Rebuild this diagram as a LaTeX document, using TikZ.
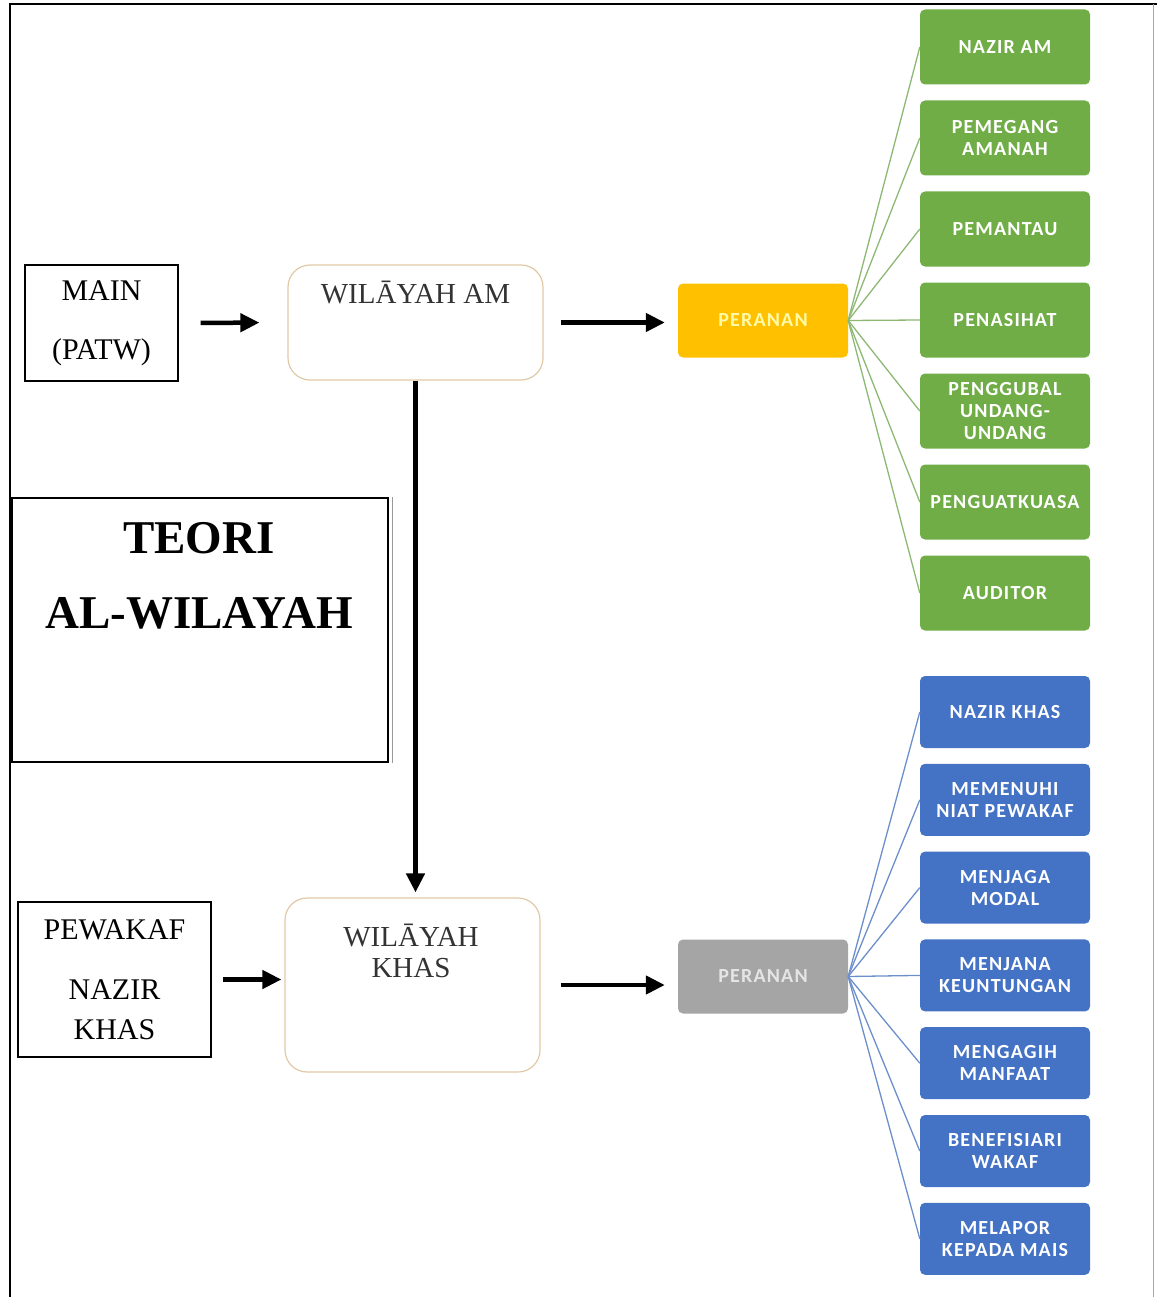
\documentclass[tikz,border=0pt]{standalone}
\usepackage{fontspec}
\setmainfont{Liberation Serif}
\newfontfamily\boxfont[LetterSpace=6]{Carlito}
\usetikzlibrary{calc,positioning}
\usetikzlibrary{arrows.meta}
\usepackage{xcolor}
\definecolor{amgreen}{HTML}{70AD47}
\definecolor{amline}{HTML}{8DB873}
\definecolor{khblue}{HTML}{4472C4}
\definecolor{khline}{HTML}{6C8FCB}
\definecolor{peryellow}{HTML}{FFC000}
\definecolor{pergray}{HTML}{A5A5A5}
\definecolor{wborder}{HTML}{E2C9A6}

\tikzset{
  srcbox/.style={draw,line width=1.3pt,align=center,inner sep=0pt},
  wbox/.style={draw=wborder,line width=1.2pt,rounded corners=22pt,fill=white},
  wtext/.style={align=center,text=black!80,font=\fontsize{29}{31}\selectfont},
  rolebox/.style={rounded corners=5pt,minimum width=170pt,align=center,
    text=white,font=\boxfont\bfseries\fontsize{20}{22}\selectfont,inner sep=0pt},
  perbox/.style={rounded corners=5pt,minimum width=170pt,minimum height=74pt,
    font=\boxfont\bfseries\fontsize{20}{22}\selectfont},
  bigarrow/.style={line width=4.5pt,-{Triangle[length=19pt,width=18pt]}}
}

\begin{document}
\begin{tikzpicture}[x=1pt,y=-1pt]
  \useasboundingbox (0,0) rectangle (1157,1297);
  % frame
  \draw[line width=1.5pt] (10,1297) -- (10,4) -- (1157,4);
  \draw[black!35,line width=0.8pt] (1153,4) -- (1153,1297);

  % wilayah am
  \node[srcbox,minimum width=153pt,minimum height=116pt,
    font=\fontsize{30}{59}\selectfont] (main) at (101.5,323) {MAIN\\(PATW)};
  \node[wbox,minimum width=255pt,minimum height=115pt] (wam) at (415.5,322.5) {};
  \node[wtext] (wamt) at (415.5,293) {WILĀYAH AM};
  \node[perbox,fill=peryellow,text=yellow!35] (perananA) at (763,320.5) {PERANAN};

  % teori box
  \node[draw,line width=1.3pt,minimum width=376pt,minimum height=264pt] (teori) at (200,630) {};
  \draw[black!40,line width=1pt] ([xshift=4pt]teori.north east) -- ([xshift=4pt]teori.south east);
  \node[align=center,font=\bfseries\fontsize{47}{75}\selectfont] (teorit) at (199,576) {TEORI\\AL-WILAYAH};

  % wilayah khas
  \node[srcbox,minimum width=193pt,minimum height=155pt,
    font=\fontsize{30}{40}\selectfont] (wakaf) at (114.5,979.5) {PEWAKAF\\[20pt]NAZIR\\KHAS};
  \node[wbox,minimum width=255pt,minimum height=174pt] (wkhas) at (412.5,985) {};
  \node[wtext] (wkhast) at (411,951) {WILĀYAH\\KHAS};
  \node[perbox,fill=pergray,text=black!10] (perananB) at (763,976.5) {PERANAN};

  % arrows
  \draw[bigarrow,shorten <=22pt,shorten >=28pt] (main.east) -- (wam.west);
  \draw[bigarrow,shorten <=17pt,shorten >=13pt] (wam.east) -- (wam.east -| perananA.west);
  \draw[bigarrow,shorten >=5pt] (wam.south) -- (wam.south |- wkhas.north);
  \draw[bigarrow,shorten <=11pt,shorten >=3pt] (wakaf.east) -- (wakaf.east -| wkhas.west);
  \draw[bigarrow,shorten <=20pt,shorten >=13pt] (wkhas.east) -- (wkhas.east -| perananB.west);

  % peranan (am)
  \foreach \txt [count=\i] in {NAZIR AM,{PEMEGANG\\AMANAH},PEMANTAU,PENASIHAT,
      {PENGGUBAL\\UNDANG-\\UNDANG},PENGUATKUASA,AUDITOR}
  {
    \node[rolebox,fill=amgreen,minimum height=75pt] (am\i) at (1005,{47+91*(\i-1)}) {\txt};
    \draw[amline,line width=1.3pt] (perananA.east) -- (am\i.west);
  }

  % peranan (khas)
  \foreach \txt [count=\i] in {NAZIR KHAS,{MEMENUHI\\NIAT PEWAKAF},{MENJAGA\\MODAL},
      {MENJANA\\KEUNTUNGAN},{MENGAGIH\\MANFAAT},{BENEFISIARI\\WAKAF},{MELAPOR\\KEPADA MAIS}}
  {
    \node[rolebox,fill=khblue,minimum height=72pt] (kh\i) at (1005,{712+87.8*(\i-1)}) {\txt};
    \draw[khline,line width=1.3pt] (perananB.east) -- (kh\i.west);
  }
\end{tikzpicture}
\end{document}
